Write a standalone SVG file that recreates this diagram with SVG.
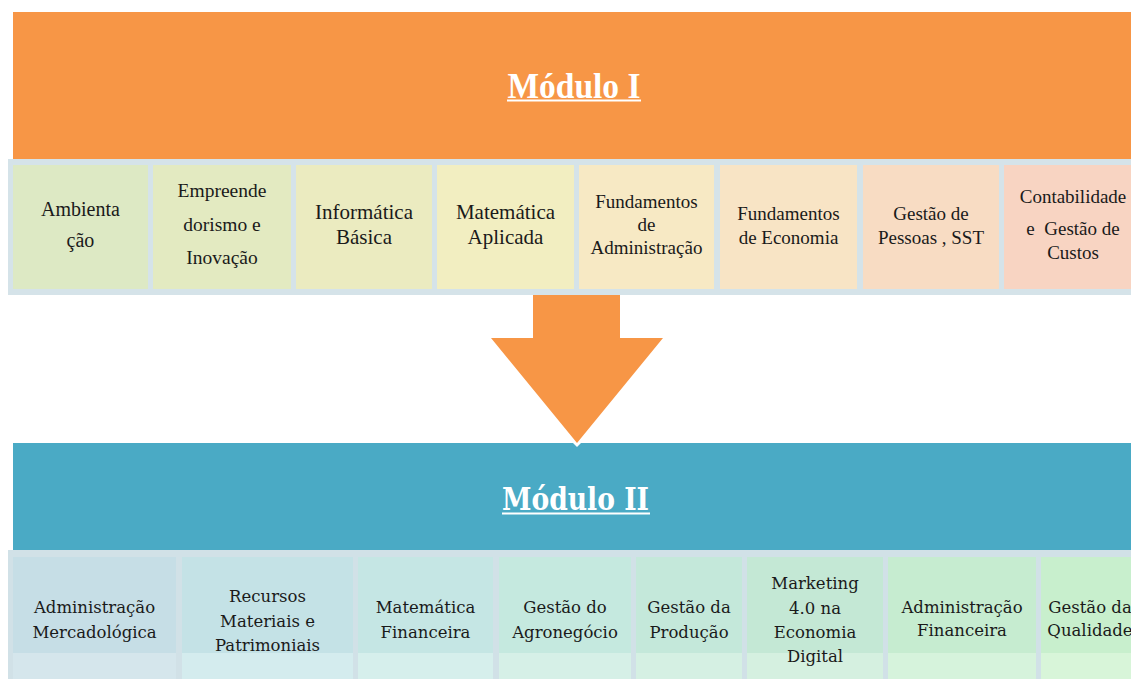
<svg xmlns="http://www.w3.org/2000/svg" width="1131" height="679" viewBox="0 0 1131 679">
<style>
.t1{font-family:"Liberation Serif",serif;fill:#1a1a1a;text-anchor:middle}
.t2{font-family:"DejaVu Serif","Liberation Serif",serif;font-size:16.5px;fill:#1a1a1a;text-anchor:middle}
.title{fill:#fff;font-weight:bold;text-anchor:middle}
</style>
<rect width="1131" height="679" fill="#fff"/>
<g id="modulo1">
<rect x="13" y="12" width="1118" height="147" fill="#f79646"/>
<text class="title" x="574" y="98" font-family="Liberation Serif,serif" font-size="36" textLength="133" lengthAdjust="spacingAndGlyphs">Módulo I</text>
<rect x="507" y="99.5" width="134" height="2" fill="#fff"/>
</g>
<g id="row1">
<rect x="8" y="159" width="1123" height="136" fill="#d5e3e9"/>
</g>
<g id="c1-1"><rect x="13" y="165" width="135" height="124" fill="#dde9c4"/>
<text class="t1" font-size="20"><tspan x="80.5" y="216">Ambienta</tspan><tspan x="80.5" y="247">ção</tspan></text></g>
<g id="c1-2"><rect x="153" y="165" width="138" height="124" fill="#e3eac1"/>
<text class="t1" font-size="19.5"><tspan x="222" y="197">Empreende</tspan><tspan x="222" y="231">dorismo e</tspan><tspan x="222" y="264">Inovação</tspan></text></g>
<g id="c1-3"><rect x="296" y="165" width="136" height="124" fill="#ebebc0"/>
<text class="t1" font-size="21"><tspan x="364" y="219">Informática</tspan><tspan x="364" y="244">Básica</tspan></text></g>
<g id="c1-4"><rect x="437" y="165" width="137" height="124" fill="#f2eec1"/>
<text class="t1" font-size="21"><tspan x="505.5" y="219">Matemática</tspan><tspan x="505.5" y="244">Aplicada</tspan></text></g>
<g id="c1-5"><rect x="579" y="165" width="135" height="124" fill="#f7e9c4"/>
<text class="t1" font-size="19"><tspan x="646.5" y="208">Fundamentos</tspan><tspan x="646.5" y="231">de</tspan><tspan x="646.5" y="254">Administração</tspan></text></g>
<g id="c1-6"><rect x="720" y="165" width="137" height="124" fill="#f8e4c5"/>
<text class="t1" font-size="19"><tspan x="788.5" y="220">Fundamentos</tspan><tspan x="788.5" y="244">de Economia</tspan></text></g>
<g id="c1-7"><rect x="863" y="165" width="136" height="124" fill="#f8dcc3"/>
<text class="t1" font-size="19"><tspan x="931" y="220">Gestão de</tspan><tspan x="931" y="244">Pessoas , SST</tspan></text></g>
<g id="c1-8"><rect x="1004" y="165" width="127" height="124" fill="#f8d4c2"/>
<text class="t1" font-size="19"><tspan x="1073" y="203">Contabilidade</tspan><tspan x="1073" y="235">e&#160; Gestão de</tspan><tspan x="1073" y="259">Custos</tspan></text></g>
<g id="connectors">
<polygon points="533,295 620,295 620,338 663,338 577,443 491,338 533,338" fill="#f79646"/>
</g>
<g id="modulo2">
<rect x="13" y="443" width="1118" height="107" fill="#4aaac5"/>
<polygon points="573,443 581,443 577,447" fill="#fff"/>
<text class="title" x="575.5" y="510" font-family="DejaVu Serif,serif" font-size="32" textLength="147" lengthAdjust="spacingAndGlyphs">Módulo II</text>
<rect x="502" y="512.5" width="148" height="2" fill="#fff"/>
</g>
<g id="row2">
<rect x="8" y="550" width="1123" height="129" fill="#d1e1e7"/>
</g>
<g id="c2-1"><rect x="13" y="557" width="163" height="96" fill="#c6dee6"/><rect x="13" y="653" width="163" height="26" fill="#d5e6ec"/>
<text class="t2"><tspan x="94.5" y="613">Administração</tspan><tspan x="94.5" y="638">Mercadológica</tspan></text></g>
<g id="c2-2"><rect x="182" y="557" width="171" height="96" fill="#c4e2e6"/><rect x="182" y="653" width="171" height="26" fill="#d4ecee"/>
<text class="t2"><tspan x="267.5" y="602">Recursos</tspan><tspan x="267.5" y="627">Materiais e</tspan><tspan x="267.5" y="651">Patrimoniais</tspan></text></g>
<g id="c2-3"><rect x="358" y="557" width="135" height="96" fill="#c5e6e4"/><rect x="358" y="653" width="135" height="26" fill="#d6efec"/>
<text class="t2"><tspan x="425.5" y="613">Matemática</tspan><tspan x="425.5" y="638">Financeira</tspan></text></g>
<g id="c2-4"><rect x="499" y="557" width="132" height="96" fill="#c5e9df"/><rect x="499" y="653" width="132" height="26" fill="#d6f0e7"/>
<text class="t2"><tspan x="565" y="613">Gestão do</tspan><tspan x="565" y="638">Agronegócio</tspan></text></g>
<g id="c2-5"><rect x="636" y="557" width="106" height="96" fill="#c4e8da"/><rect x="636" y="653" width="106" height="26" fill="#d5f0e3"/>
<text class="t2"><tspan x="689" y="613">Gestão da</tspan><tspan x="689" y="638">Produção</tspan></text></g>
<g id="c2-6"><rect x="747" y="557" width="136" height="96" fill="#c4e8d5"/><rect x="747" y="653" width="136" height="26" fill="#d5f0e0"/>
<text class="t2"><tspan x="815" y="589">Marketing</tspan><tspan x="815" y="614">4.0 na</tspan><tspan x="815" y="638">Economia</tspan><tspan x="815" y="662">Digital</tspan></text></g>
<g id="c2-7"><rect x="888" y="557" width="148" height="96" fill="#c6ecd0"/><rect x="888" y="653" width="148" height="26" fill="#d6f3dc"/>
<text class="t2"><tspan x="962" y="613">Administração</tspan><tspan x="962" y="636">Financeira</tspan></text></g>
<g id="c2-8"><rect x="1041" y="557" width="90" height="96" fill="#c8efcd"/><rect x="1041" y="653" width="90" height="26" fill="#d8f5d9"/>
<text class="t2"><tspan x="1090" y="613">Gestão da</tspan><tspan x="1090" y="636">Qualidade</tspan></text></g>
</svg>
